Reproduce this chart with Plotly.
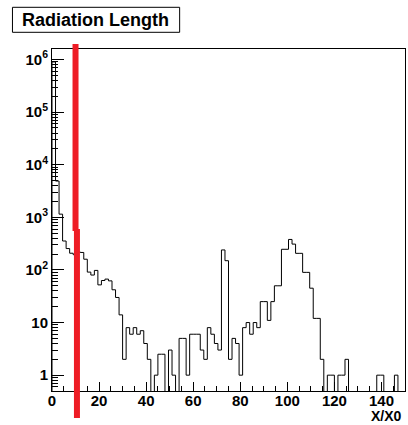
import numpy as np
import plotly.graph_objects as go

# ---------------- data ----------------
bin_low = 0.0
bin_high = 150.0
counts = [
    900000, 4900, 1150, 355, 255, 208, 195, 220, 215, 160,
    91, 80, 98, 52, 63, 67, 62, 42, 30, 14,
    2, 8, 6, 8, 6, 7, 4, 2, 0, 1,
    2.5, 2.5, 0, 3, 1, 0, 5, 5, 1, 6,
    6, 6, 3, 2, 8, 6, 4, 3, 240, 150,
    2, 5, 4, 1, 8, 10, 6, 10, 8, 25,
    25, 11, 25, 50, 50, 247, 247, 380, 310, 207,
    207, 90, 90, 45, 12, 12, 2, 0, 1, 1,
    0, 1, 1, 2, 0, 0, 0, 0, 0, 0,
    0, 0, 1, 1, 0, 0, 0, 1, 0, 0,
]
x_tick_values = [0, 20, 40, 60, 80, 100, 120, 140]
x_tick_labels = ["0", "20", "40", "60", "80", "100", "120", "140"]
y_tick_values = [1, 10, 100, 1e3, 1e4, 1e5, 1e6]
y_tick_labels = ["1", "10", "10<sup>2</sup>", "10<sup>3</sup>", "10<sup>4</sup>",
                 "10<sup>5</sup>", "10<sup>6</sup>"]
title_text = "Radiation Length"
x_title = "X/X0"
marker_x_upper = 10.0
marker_x_lower = 10.6

# ---------------- build ----------------
n = len(counts)
edges = np.linspace(bin_low, bin_high, n + 1)
vals = np.array(counts, dtype=float)
floor = 1e-3
plot_vals = np.where(vals > 0, vals, floor)
xs = np.concatenate([[edges[0]], edges])
ys = np.concatenate([[floor], plot_vals, [floor]])

minor_y = [k * 10.0 ** d for d in range(-1, 7) for k in range(2, 10)]

fig = go.Figure()
fig.add_trace(go.Scatter(x=xs, y=ys, mode="lines", line=dict(shape="hv", color="black", width=1),
                         hoverinfo="skip", showlegend=False))

font_b = dict(family="Liberation Sans, Arial, sans-serif", size=15, color="black", weight="bold")

fig.update_layout(
    width=408, height=425,
    margin=dict(l=52, r=3, t=49, b=34, pad=0),
    paper_bgcolor="white", plot_bgcolor="white",
    showlegend=False,
    xaxis=dict(range=[bin_low, bin_high], showline=True, linecolor="black", linewidth=1, mirror=True,
               ticks="inside", ticklen=9, tickwidth=1, tickcolor="black",
               tickmode="array", tickvals=x_tick_values, ticktext=x_tick_labels,
               tickfont=font_b, ticklabelstandoff=-4, showgrid=False, zeroline=False,
               minor=dict(ticks="inside", ticklen=5, tickwidth=1, tickcolor="black", dtick=5, tick0=0,
                          showgrid=False)),
    yaxis=dict(type="log", range=[np.log10(0.5), 6.2], showline=True, linecolor="black", linewidth=1,
               mirror=True, ticks="inside", ticklen=12, tickwidth=1, tickcolor="black",
               tickmode="array", tickvals=y_tick_values, ticktext=y_tick_labels,
               tickfont=font_b, showgrid=False, zeroline=False,
               minor=dict(ticks="inside", ticklen=6, tickwidth=1, tickcolor="black",
                          tickmode="array", tickvals=minor_y, showgrid=False)),
)

# title box
fig.add_shape(type="rect", xref="paper", yref="paper", x0=-0.112, x1=0.3616, y0=1.0488, y1=1.1219,
              line=dict(color="black", width=1), fillcolor="white", layer="above")
fig.add_annotation(text=title_text, xref="paper", yref="paper", x=0.1243, y=1.0854,
                   xanchor="center", yanchor="middle", showarrow=False,
                   font=dict(family="Liberation Sans, Arial, sans-serif", size=18, color="black", weight="bold"))
# x title
fig.add_annotation(text=x_title, xref="paper", yref="paper", x=0.994, y=-0.0745,
                   xanchor="right", yanchor="middle", showarrow=False, borderpad=0,
                   font=dict(family="Liberation Sans, Arial, sans-serif", size=14, color="black", weight="bold"))

# red marker line
red = "#ee1c25"
fig.add_shape(type="line", xref="x", yref="paper", x0=marker_x_upper, x1=marker_x_upper,
              y0=0.468, y1=1.0146, line=dict(color=red, width=6), layer="above")
fig.add_shape(type="line", xref="x", yref="paper", x0=marker_x_lower, x1=marker_x_lower,
              y0=-0.079, y1=0.474, line=dict(color=red, width=6), layer="above")

fig.write_html("out.html")
